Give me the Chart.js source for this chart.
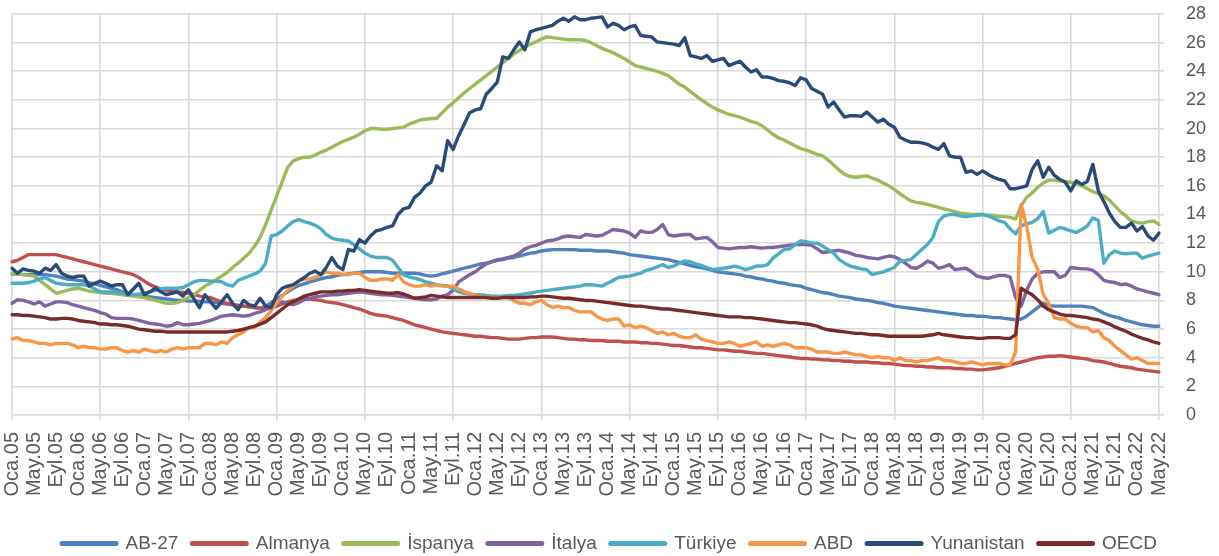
<!DOCTYPE html>
<html>
<head>
<meta charset="utf-8">
<script src="https://cdn.jsdelivr.net/npm/chart.js@4/dist/chart.umd.min.js"></script>
<style>
  html, body { margin: 0; padding: 0; background: #fff; }
  #wrap { width: 1219px; height: 556px; position: relative; }
</style>
</head>
<body>
<div id="wrap"><canvas id="chart"></canvas></div>
<script>
// Aylık işsizlik oranları (%), Ocak 2005 - Mayıs 2022
const monthNames = ['Oca', 'Şub', 'Mar', 'Nis', 'May', 'Haz', 'Tem', 'Ağu', 'Eyl', 'Eki', 'Kas', 'Ara'];
const firstYear = 2005;
const lastYear = 2022;
const lastMonth = 5; // Mayıs

const seriesNames = ['AB-27', 'Almanya', 'İspanya', 'İtalya', 'Türkiye', 'ABD', 'Yunanistan', 'OECD'];
const seriesColors = ['#4f81bd', '#c0504d', '#9bbb59', '#8064a2', '#4bacc6', '#f79646', '#2a4b78', '#772c2a'];

const yTicks = { min: 0, max: 28, step: 2 };

const ab27 = [
  9.85, 9.85, 9.8, 9.8, 9.8, 9.8, 9.8, 9.75, 9.7, 9.6, 9.5, 9.45,
  9.4, 9.35, 9.25, 9.15, 9.05, 8.95, 8.85, 8.75, 8.6, 8.5, 8.4, 8.35,
  8.3, 8.25, 8.2, 8.15, 8.1, 8.05, 8.0, 8.0, 7.95, 7.95, 7.95, 7.9,
  7.9, 7.85, 7.8, 7.75, 7.7, 7.65, 7.6, 7.55, 7.5, 7.45, 7.6, 7.85,
  8.1, 8.35, 8.6, 8.85, 9.05, 9.15, 9.3, 9.4, 9.5, 9.6, 9.65, 9.75,
  9.8, 9.85, 9.9, 9.95, 10.0, 10.0, 10.0, 10.0, 9.95, 9.9, 9.9, 9.9,
  9.9, 9.9, 9.85, 9.75, 9.7, 9.75, 9.85, 9.95, 10.05, 10.15, 10.25, 10.35,
  10.45, 10.55, 10.6, 10.7, 10.8, 10.85, 10.95, 11.0, 11.1, 11.2, 11.3, 11.35,
  11.45, 11.5, 11.55, 11.55, 11.55, 11.55, 11.55, 11.5, 11.5, 11.5, 11.45, 11.45,
  11.45, 11.4, 11.35, 11.3, 11.2, 11.15, 11.1, 11.05, 11.0, 10.95, 10.9, 10.85,
  10.75, 10.65, 10.55, 10.45, 10.35, 10.3, 10.2, 10.1, 10.0, 9.95, 9.9, 9.85,
  9.8, 9.7, 9.65, 9.55, 9.5, 9.4, 9.35, 9.25, 9.2, 9.1, 9.05, 9.0,
  8.85, 8.75, 8.65, 8.55, 8.5, 8.4, 8.3, 8.25, 8.2, 8.1, 8.05, 8.0,
  7.95, 7.85, 7.8, 7.7, 7.6, 7.55, 7.5, 7.45, 7.4, 7.35, 7.3, 7.25,
  7.2, 7.15, 7.1, 7.05, 7.0, 6.95, 6.95, 6.9, 6.9, 6.85, 6.8, 6.8,
  6.75, 6.7, 6.65, 6.7, 6.9, 7.2, 7.5, 7.8, 7.65, 7.6, 7.6, 7.6,
  7.6, 7.6, 7.6, 7.55, 7.5, 7.3, 7.1, 6.95, 6.85, 6.75, 6.6, 6.5,
  6.4, 6.3, 6.25, 6.2, 6.2
];

const almanya = [
  10.7, 10.8, 11.0, 11.2, 11.2, 11.2, 11.2, 11.2, 11.2, 11.1, 11.0, 10.9,
  10.8, 10.7, 10.6, 10.5, 10.4, 10.3, 10.2, 10.1, 10.0, 9.9, 9.8, 9.6,
  9.35, 9.1, 8.95, 8.8, 8.7, 8.65, 8.6, 8.55, 8.5, 8.4, 8.3, 8.25,
  8.2, 8.05, 7.9, 7.8, 7.7, 7.65, 7.6, 7.55, 7.5, 7.45, 7.45, 7.5,
  7.6, 7.75, 7.9, 8.0, 8.05, 8.1, 8.1, 8.05, 8.0, 7.9, 7.85, 7.8,
  7.7, 7.6, 7.5, 7.4, 7.25, 7.1, 7.0, 6.95, 6.9, 6.8, 6.7, 6.6,
  6.45, 6.3, 6.2, 6.1, 6.0, 5.9, 5.8, 5.75, 5.7, 5.65, 5.6, 5.55,
  5.5, 5.5, 5.45, 5.4, 5.4, 5.35, 5.3, 5.3, 5.3, 5.35, 5.4, 5.4,
  5.45, 5.45, 5.45, 5.4, 5.35, 5.3, 5.3, 5.25, 5.25, 5.2, 5.2, 5.2,
  5.15, 5.15, 5.15, 5.1, 5.1, 5.1, 5.05, 5.05, 5.0, 5.0, 4.95, 4.9,
  4.85, 4.85, 4.8, 4.75, 4.7, 4.7, 4.65, 4.6, 4.55, 4.55, 4.5, 4.45,
  4.45, 4.4, 4.35, 4.3, 4.3, 4.25, 4.2, 4.15, 4.1, 4.05, 4.0, 3.95,
  3.95, 3.9, 3.9, 3.85, 3.85, 3.8, 3.8, 3.75, 3.75, 3.7, 3.7, 3.7,
  3.65, 3.65, 3.6, 3.6, 3.55, 3.5, 3.45, 3.45, 3.4, 3.4, 3.35, 3.35,
  3.3, 3.3, 3.3, 3.25, 3.25, 3.2, 3.2, 3.15, 3.15, 3.2, 3.25, 3.3,
  3.4, 3.5, 3.6, 3.7, 3.8, 3.9, 4.0, 4.05, 4.1, 4.1, 4.15, 4.1,
  4.05, 4.0, 3.95, 3.9, 3.8, 3.75, 3.7, 3.6, 3.5, 3.4, 3.35, 3.3,
  3.2, 3.15, 3.1, 3.05, 3.0
];

const ispanya = [
  9.9, 9.85, 9.8, 9.75, 9.7, 9.4, 9.1, 8.8, 8.5, 8.6, 8.7, 8.8,
  8.85, 8.75, 8.65, 8.6, 8.55, 8.5, 8.5, 8.45, 8.4, 8.35, 8.3, 8.25,
  8.2, 8.1, 8.0, 7.9, 7.8, 7.8, 7.85, 8.0, 8.2, 8.4, 8.7, 9.0,
  9.2, 9.45, 9.7, 9.95, 10.3, 10.6, 10.95, 11.3, 11.8, 12.4, 13.3, 14.3,
  15.3, 16.3, 17.3, 17.75, 17.9, 18.0, 18.0, 18.15, 18.35, 18.5, 18.7, 18.9,
  19.1, 19.25, 19.4, 19.6, 19.85, 20.0, 20.0, 19.95, 19.95, 20.0, 20.05, 20.1,
  20.3, 20.45, 20.6, 20.65, 20.7, 20.7, 21.1, 21.5, 21.8, 22.15, 22.5, 22.8,
  23.1, 23.4, 23.7, 24.0, 24.3, 24.6, 24.9, 25.2, 25.45, 25.7, 25.9, 26.05,
  26.25, 26.4, 26.35, 26.3, 26.25, 26.2, 26.2, 26.2, 26.15, 26.0, 25.8, 25.6,
  25.45, 25.3, 25.1, 24.9, 24.65, 24.4, 24.3, 24.2, 24.1, 24.0, 23.85, 23.7,
  23.4, 23.1, 22.9, 22.6, 22.3, 22.0, 21.75, 21.5, 21.3, 21.15, 21.0, 20.9,
  20.8, 20.65, 20.5, 20.4, 20.2, 19.9, 19.6, 19.35, 19.2, 19.0, 18.8, 18.6,
  18.5, 18.35, 18.2, 18.1, 17.8, 17.45, 17.1, 16.8, 16.65, 16.6, 16.65, 16.7,
  16.55, 16.4, 16.2, 16.0, 15.75, 15.45, 15.2, 14.95, 14.85, 14.8, 14.7, 14.6,
  14.5, 14.4, 14.3, 14.2, 14.1, 14.05, 14.0, 14.0, 14.0, 13.95, 13.95, 13.85,
  13.85, 13.8, 13.7, 14.6, 15.2, 15.5, 15.9, 16.2, 16.4, 16.4, 16.35, 16.3,
  16.25, 16.15, 16.0, 15.8, 15.6, 15.45, 15.3, 15.0, 14.6, 14.2, 13.9, 13.55,
  13.45, 13.4, 13.5, 13.55, 13.3
];

const italya = [
  7.8, 8.05, 8.0, 7.9, 7.75, 7.9, 7.6, 7.75, 7.9, 7.9, 7.85, 7.7,
  7.6, 7.5, 7.4, 7.3, 7.15, 7.05, 6.8, 6.75, 6.75, 6.75, 6.7, 6.6,
  6.5, 6.4, 6.35, 6.3, 6.2, 6.25, 6.45, 6.3, 6.3, 6.35, 6.4, 6.5,
  6.6, 6.75, 6.9, 6.95, 7.0, 6.95, 6.9, 6.95, 7.1, 7.2, 7.35, 7.55,
  7.75, 7.9, 7.8, 7.7, 7.85, 8.05, 8.15, 8.25, 8.3, 8.35, 8.4, 8.4,
  8.45, 8.5, 8.55, 8.6, 8.55, 8.5, 8.45, 8.4, 8.4, 8.35, 8.3, 8.25,
  8.2, 8.15, 8.1, 8.05, 8.05, 8.1, 8.3, 8.4, 8.7, 9.3, 9.55, 9.8,
  10.0, 10.3, 10.55, 10.7, 10.85, 10.9, 11.0, 11.1, 11.3, 11.6, 11.75, 11.85,
  12.0, 12.15, 12.2, 12.3, 12.45, 12.5, 12.45, 12.4, 12.6, 12.55, 12.5, 12.55,
  12.75, 12.95, 12.9, 12.85, 12.7, 12.4, 12.85, 12.75, 12.75, 12.95, 13.3, 12.6,
  12.5, 12.55, 12.6, 12.6, 12.3, 12.35, 12.4, 12.1, 11.7, 11.65, 11.6, 11.65,
  11.7, 11.7, 11.75, 11.7, 11.65, 11.7, 11.7, 11.75, 11.8, 11.85, 11.9, 11.9,
  11.9, 11.85, 11.6, 11.35, 11.4, 11.45, 11.5, 11.4, 11.3, 11.15, 11.1, 11.0,
  10.95, 10.9, 11.0, 11.1, 11.05, 10.85, 10.6, 10.3, 10.25, 10.45, 10.75, 10.6,
  10.25, 10.35, 10.5, 10.15, 10.2, 10.25, 10.0, 9.7, 9.6, 9.55, 9.65, 9.75,
  9.75, 9.65, 8.2, 7.6, 8.7, 9.5, 9.9, 10.0, 10.0, 10.0, 9.6, 9.75,
  10.3, 10.25, 10.2, 10.2, 10.1, 9.8, 9.4, 9.3, 9.25, 9.1, 9.15, 9.0,
  8.8, 8.7, 8.6, 8.5, 8.4
];

const turkiye = [
  9.2, 9.2, 9.2, 9.25, 9.35, 9.5, 9.6, 9.4, 9.2, 9.15, 9.1, 9.1,
  9.1, 9.1, 9.0, 8.8, 8.6, 8.6, 8.6, 8.55, 8.5, 8.45, 8.4, 8.45,
  8.5, 8.6, 8.7, 8.8, 8.85, 8.85, 8.85, 8.9, 9.1, 9.3, 9.4, 9.4,
  9.35, 9.35, 9.3, 9.1, 9.0, 9.4, 9.55, 9.7, 9.85, 10.05, 10.6, 12.5,
  12.6, 12.85, 13.2, 13.5, 13.65, 13.5, 13.4, 13.25, 13.0, 12.6, 12.35, 12.25,
  12.2, 12.15, 11.9, 11.6, 11.3, 11.1, 11.0, 11.0, 11.0, 10.8, 10.3, 9.8,
  9.65, 9.55, 9.45, 9.3, 9.2, 9.1, 9.05, 9.0, 8.8, 8.6, 8.5, 8.45,
  8.4, 8.4, 8.35, 8.3, 8.3, 8.3, 8.35, 8.35, 8.4, 8.45, 8.5, 8.6,
  8.65, 8.7, 8.75, 8.8, 8.85, 8.9, 8.95, 9.0, 9.1, 9.1, 9.05, 9.0,
  9.2, 9.4, 9.6, 9.65, 9.7, 9.8, 9.9, 10.1, 10.2, 10.35, 10.5, 10.3,
  10.4, 10.6, 10.75, 10.7, 10.55, 10.45, 10.3, 10.15, 10.2, 10.25, 10.3, 10.4,
  10.3, 10.15, 10.25, 10.4, 10.4, 10.5, 10.95, 11.25, 11.55, 11.6, 11.9, 12.15,
  12.1, 12.0, 12.0, 11.8, 11.55, 11.3, 10.85, 10.6, 10.4, 10.3, 10.2, 10.15,
  9.8, 9.9, 10.0, 10.15, 10.3, 10.75, 10.8, 10.85, 11.2, 11.55, 11.9, 12.4,
  13.5, 13.9, 14.0, 14.0, 13.9, 13.85, 13.9, 13.95, 14.0, 13.9, 13.75, 13.55,
  13.45, 13.0, 12.65, 13.2, 13.35, 13.45, 13.7, 14.2, 12.7, 12.9, 13.1, 13.0,
  12.85, 12.75, 12.95, 13.2, 13.75, 13.6, 10.6, 11.2, 11.45, 11.3, 11.25, 11.3,
  11.3, 10.95, 11.1, 11.2, 11.3
];

const abd = [
  5.3, 5.4, 5.2, 5.2, 5.1, 5.0, 5.0, 4.9, 5.0, 5.0, 5.0, 4.9,
  4.7, 4.8, 4.7, 4.7, 4.6, 4.6, 4.7, 4.7, 4.5, 4.4, 4.5, 4.4,
  4.6, 4.5, 4.4, 4.5, 4.4, 4.6, 4.7, 4.6, 4.7, 4.7, 4.7, 5.0,
  5.0, 4.9, 5.1, 5.0, 5.4, 5.6, 5.8, 6.1, 6.1, 6.5, 6.8, 7.3,
  7.8, 8.3, 8.7, 9.0, 9.4, 9.5, 9.5, 9.6, 9.8, 10.0, 9.9, 9.9,
  9.8, 9.8, 9.9, 9.9, 9.6, 9.4, 9.4, 9.5, 9.5, 9.4, 9.8, 9.3,
  9.1, 9.0, 9.0, 9.1, 9.0, 9.1, 9.0, 9.0, 9.0, 8.8, 8.6, 8.5,
  8.3, 8.3, 8.2, 8.2, 8.2, 8.2, 8.2, 8.0, 7.8, 7.8, 7.7, 7.9,
  8.0, 7.7, 7.5, 7.6, 7.5, 7.5, 7.3, 7.2, 7.2, 7.2, 6.9, 6.7,
  6.6, 6.7, 6.7, 6.2, 6.3, 6.1, 6.2, 6.1, 5.9, 5.7, 5.8, 5.6,
  5.7, 5.5, 5.4, 5.4, 5.6, 5.3, 5.2, 5.1, 5.0, 5.0, 5.1, 5.0,
  4.8, 4.9, 5.0, 5.1, 4.8, 4.9, 4.8, 4.9, 5.0, 4.9, 4.7, 4.7,
  4.7, 4.6, 4.4, 4.4, 4.4, 4.3, 4.3, 4.4, 4.3, 4.2, 4.2, 4.1,
  4.0, 4.1, 4.0, 4.0, 3.8, 4.0, 3.8, 3.8, 3.7, 3.8, 3.8, 3.9,
  4.0, 3.8, 3.8, 3.7, 3.6, 3.6, 3.7, 3.6, 3.5, 3.6, 3.6, 3.6,
  3.5, 3.5, 4.4, 14.7, 13.2, 11.0, 10.2, 8.4, 7.8, 6.8, 6.7, 6.7,
  6.4, 6.2, 6.1, 6.1, 5.8, 5.9, 5.4, 5.2, 4.8, 4.5, 4.2, 3.9,
  4.0, 3.8, 3.6, 3.6, 3.6
];

const yunanistan = [
  10.25, 9.9, 10.2, 10.1, 10.05, 9.9, 10.25, 10.1, 10.5, 9.9, 9.7, 9.6,
  9.7, 9.7, 9.0, 9.2, 9.35, 9.2, 9.0, 9.1, 9.1, 8.4, 8.8, 9.2,
  8.4, 8.6, 8.85, 8.6, 8.4, 8.5, 8.6, 8.3, 8.75, 8.1, 7.5, 8.4,
  7.9, 7.45, 7.9, 8.4, 7.8, 7.35, 8.0, 7.7, 7.6, 8.15, 7.6, 7.5,
  8.4, 8.85, 9.0, 9.1, 9.35, 9.6, 9.9, 10.05, 9.8, 10.3, 11.0, 10.4,
  10.15, 11.55, 11.45, 12.25, 12.0, 12.5, 12.85, 12.95, 13.1, 13.2, 14.0, 14.4,
  14.5, 15.2, 15.5, 16.0, 16.25, 17.4, 17.05, 19.15, 18.55, 19.5, 20.3, 21.1,
  21.3, 21.4, 22.4, 22.8, 23.25, 25.0, 24.9, 25.5, 26.05, 25.5, 26.75, 26.9,
  27.0, 27.1, 27.2, 27.5, 27.7, 27.5, 27.8, 27.6, 27.6, 27.7, 27.75, 27.8,
  27.1, 27.35, 27.2, 26.9, 27.1, 27.2, 26.5, 26.45, 26.4, 26.05, 26.0, 25.95,
  25.9, 25.8, 26.35, 25.1, 25.0, 24.9, 25.1, 24.7, 24.8, 24.9, 24.4, 24.55,
  24.7, 24.3, 23.95, 24.1, 23.6, 23.6, 23.5, 23.35, 23.3, 23.2, 23.0, 23.55,
  23.4, 22.8, 22.6, 22.4, 21.5, 21.85, 21.3, 20.8, 20.9, 20.9, 20.85, 21.15,
  20.8, 20.45, 20.65, 20.3, 20.1, 19.4, 19.2, 19.05, 19.05, 19.0, 18.9, 18.7,
  18.55, 18.95, 18.1, 18.0, 18.0, 16.95, 17.05, 16.8, 17.05, 16.8, 16.6, 16.45,
  16.35, 15.8, 15.8, 15.9, 16.0, 17.15, 17.75, 16.6, 17.3, 16.75, 16.45, 16.25,
  15.65, 16.35, 16.1, 16.3, 17.5, 15.65, 14.9, 14.1, 13.5, 13.1, 13.1, 13.4,
  12.85, 13.15, 12.5, 12.2, 12.7
];

const oecd = [
  7.0, 7.0, 6.95, 6.95, 6.9, 6.85, 6.8, 6.7, 6.7, 6.75, 6.75, 6.7,
  6.6, 6.55, 6.5, 6.45, 6.35, 6.35, 6.3, 6.3, 6.25, 6.2, 6.1, 6.0,
  5.95, 5.9, 5.85, 5.85, 5.8, 5.8, 5.8, 5.8, 5.8, 5.8, 5.8, 5.8,
  5.8, 5.8, 5.8, 5.8, 5.85, 5.9, 6.0, 6.1, 6.2, 6.35, 6.5, 6.8,
  7.1, 7.4, 7.7, 7.9, 8.1, 8.3, 8.4, 8.5, 8.6, 8.6, 8.6, 8.65,
  8.65, 8.7, 8.7, 8.75, 8.7, 8.65, 8.6, 8.55, 8.5, 8.5, 8.55, 8.45,
  8.3, 8.15, 8.2, 8.25, 8.35, 8.3, 8.25, 8.2, 8.2, 8.2, 8.2, 8.2,
  8.2, 8.2, 8.2, 8.15, 8.15, 8.2, 8.2, 8.2, 8.2, 8.2, 8.25, 8.25,
  8.3, 8.3, 8.25, 8.2, 8.15, 8.15, 8.1, 8.05, 8.0, 8.0, 7.95, 7.9,
  7.85, 7.8, 7.75, 7.7, 7.65, 7.6, 7.6, 7.55, 7.5, 7.45, 7.4, 7.4,
  7.35, 7.3, 7.25, 7.2, 7.15, 7.1, 7.05, 7.0, 6.95, 6.9, 6.85, 6.85,
  6.85, 6.8, 6.8, 6.75, 6.7, 6.65, 6.6, 6.55, 6.5, 6.45, 6.45, 6.4,
  6.35, 6.3, 6.2, 6.05, 5.95, 5.9, 5.85, 5.8, 5.75, 5.7, 5.7, 5.65,
  5.6, 5.6, 5.55, 5.5, 5.5, 5.5, 5.5, 5.5, 5.5, 5.5, 5.55, 5.6,
  5.7, 5.6, 5.55, 5.5, 5.45, 5.4, 5.4, 5.35, 5.35, 5.4, 5.4, 5.4,
  5.35, 5.35, 5.6, 8.85, 8.6, 8.4, 8.05, 7.6, 7.35, 7.2, 7.05, 6.95,
  6.95, 6.9, 6.85, 6.8, 6.7, 6.65, 6.5, 6.35, 6.15, 6.0, 5.85, 5.65,
  5.5, 5.35, 5.25, 5.1, 5.0
];

const seriesValues = [ab27, almanya, ispanya, italya, turkiye, abd, yunanistan, oecd];

// kategori etiketleri: Oca.05 ... May.22
const labels = [];
for (let y = firstYear; y <= lastYear; y++) {
  const nMonths = y === lastYear ? lastMonth : 12;
  for (let m = 0; m < nMonths; m++) {
    labels.push(monthNames[m] + '.' + String(y).slice(2));
  }
}

const gridColor = '#d9d9d9';
const textColor = '#595959';
const fontFamily = "'Liberation Sans', Arial, sans-serif";

const datasets = seriesNames.map((name, i) => ({
  label: name,
  data: seriesValues[i],
  borderColor: seriesColors[i],
  backgroundColor: seriesColors[i],
  borderWidth: 3.4,
  borderJoinStyle: 'round',
  borderCapStyle: 'round',
  pointRadius: 0,
  tension: 0,
  fill: false,
  order: seriesNames.length - i // Excel gibi: son seri en üstte
}));

new Chart(document.getElementById('chart'), {
  type: 'line',
  data: { labels: labels, datasets: datasets },
  options: {
    responsive: true,
    maintainAspectRatio: false,
    animation: false,
    layout: { padding: { left: 0, right: 0, top: 0, bottom: -7 } },
    plugins: {
      tooltip: { enabled: false },
      legend: {
        position: 'bottom',
        labels: {
          usePointStyle: true,
          pointStyle: 'line',
          pointStyleWidth: 54,
          boxHeight: 5,
          padding: 14,
          color: textColor,
          font: { family: fontFamily, size: 19 },
          sort: (a, b) => a.datasetIndex - b.datasetIndex,
          generateLabels: function (chart) {
            const items = Chart.defaults.plugins.legend.labels.generateLabels(chart);
            items.forEach(it => { it.lineWidth = 5; it.lineCap = 'round'; });
            return items;
          }
        }
      }
    },
    scales: {
      x: {
        type: 'category',
        grid: {
          color: ctx => (ctx.index % 4 === 0 ? gridColor : 'rgba(0,0,0,0)'),
          lineWidth: 1.6,
          tickLength: 5
        },
        border: { color: gridColor, width: 1.6 },
        ticks: {
          autoSkip: false,
          maxRotation: 90,
          minRotation: 90,
          padding: 12,
          color: textColor,
          font: { family: fontFamily, size: 20 },
          callback: function (val, index) {
            return index % 4 === 0 ? this.getLabelForValue(val) : null;
          }
        },
        afterFit: function (scale) {
          scale.height = 105;
          scale.paddingLeft = 12;
        }
      },
      y: {
        position: 'right',
        min: yTicks.min,
        max: yTicks.max,
        grid: { color: gridColor, lineWidth: 1.6, tickLength: 5 },
        border: { display: false },
        ticks: {
          stepSize: yTicks.step,
          padding: 22,
          color: textColor,
          font: { family: fontFamily, size: 18 }
        },
        afterFit: function (scale) {
          scale.width = 60;
          scale.paddingTop = 14;
          scale.paddingBottom = 11;
        }
      }
    }
  }
});
</script>
</body>
</html>
